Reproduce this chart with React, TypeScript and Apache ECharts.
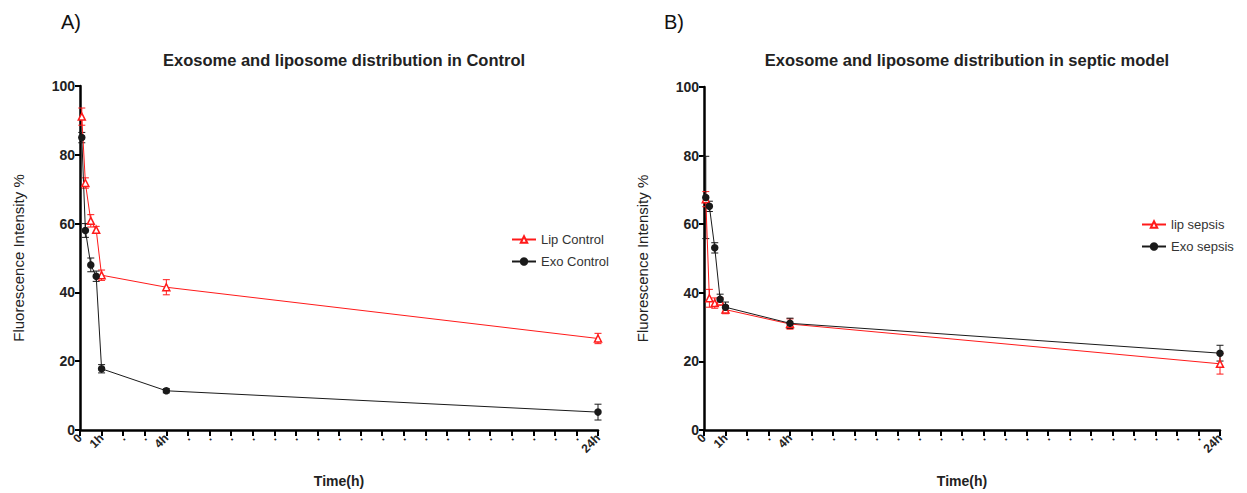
import React, { useEffect, useRef } from "react";
import * as echarts from "echarts";

const times = [0.083, 0.25, 0.5, 0.75, 1, 4, 24];
const lipControl = [91.1, 71.8, 60.8, 58.2, 45.0, 41.5, 26.6];
const lipControlErr = [2.5, 1.5, 1.8, 1.0, 1.5, 2.2, 1.5];
const exoControl = [85.0, 58.0, 48.0, 44.7, 17.8, 11.4, 5.2];
const exoControlErr = [1.5, 2.0, 2.0, 1.5, 1.2, 0.6, 2.3];
const lipSepsis = [67.3, 38.4, 37.0, 37.5, 35.1, 30.9, 19.3];
const lipSepsisErr = [2.2, 2.6, 1.5, 1.0, 1.2, 1.5, 3.0];
const exoSepsis = [67.8, 65.2, 53.1, 38.1, 35.8, 31.1, 22.4];
const exoSepsisErr = [12, 1.5, 1.5, 1.5, 1.5, 1.5, 2.3];
const tickLabels: Record<number, string> = { 0: "0", 1: "1h", 4: "4h", 24: "24h" };

const RED = "#ff1a1a";
const BLACK = "#1a1a1a";
const FONT = "Liberation Sans, Arial, sans-serif";

function pts(ys: number[]) {
  return times.map((t, i) => [t, ys[i]]);
}
function errPts(ys: number[], es: number[]) {
  return times.map((t, i) => [t, ys[i], es[i]]);
}

function errorSeries(name: string, ys: number[], es: number[], color: string, idx: number) {
  return {
    type: "custom",
    name,
    xAxisIndex: idx,
    yAxisIndex: idx,
    data: errPts(ys, es),
    encode: { x: 0, y: 1 },
    z: 1,
    renderItem: (params: any, api: any) => {
      const x = api.value(0);
      const y = api.value(1);
      const e = api.value(2);
      const top = api.coord([x, y + e]);
      const bot = api.coord([x, y - e]);
      const hw = 3.5;
      const st = { stroke: color, lineWidth: 1 };
      return {
        type: "group",
        children: [
          { type: "line", shape: { x1: top[0], y1: top[1], x2: bot[0], y2: bot[1] }, style: st },
          { type: "line", shape: { x1: top[0] - hw, y1: top[1], x2: top[0] + hw, y2: top[1] }, style: st },
          { type: "line", shape: { x1: bot[0] - hw, y1: bot[1], x2: bot[0] + hw, y2: bot[1] }, style: st },
        ],
      };
    },
  };
}

function xAxis(idx: number) {
  return {
    type: "value",
    gridIndex: idx,
    min: 0,
    max: 24,
    interval: 1,
    name: "Time(h)",
    nameLocation: "middle",
    nameGap: 44,
    nameTextStyle: { fontFamily: FONT, fontSize: 14, fontWeight: "bold", color: "#222" },
    axisLine: { show: true, lineStyle: { color: "#000", width: 2.5 } },
    axisTick: { show: true, length: 6, lineStyle: { color: "#000", width: 2 } },
    splitLine: { show: false },
    axisLabel: {
      rotate: 45,
      margin: 6,
      fontFamily: FONT,
      fontSize: 12,
      fontWeight: "bold",
      color: "#222",
      formatter: (v: number) => tickLabels[v] ?? ".",
    },
  };
}

function yAxis(idx: number) {
  return {
    type: "value",
    gridIndex: idx,
    min: 0,
    max: 100,
    interval: 20,
    name: "Fluorescence Intensity %",
    nameLocation: "middle",
    nameGap: 54,
    nameTextStyle: { fontFamily: FONT, fontSize: 15, color: "#222" },
    axisLine: { show: true, lineStyle: { color: "#000", width: 2.5 } },
    axisTick: { show: true, length: 5, lineStyle: { color: "#000", width: 2 } },
    splitLine: { show: false },
    axisLabel: { fontFamily: FONT, fontSize: 14, fontWeight: "bold", color: "#222", margin: 5 },
  };
}

function lineSeries(name: string, ys: number[], color: string, symbol: string, idx: number) {
  return {
    type: "line",
    name,
    xAxisIndex: idx,
    yAxisIndex: idx,
    data: pts(ys),
    symbol,
    symbolSize: symbol === "circle" ? 6 : 7,
    showSymbol: true,
    z: 3,
    lineStyle: { color, width: 1 },
    itemStyle: { color: symbol === "circle" ? color : "#fff", borderColor: color, borderWidth: 1.5 },
  };
}

export default function App() {
  const ref = useRef<HTMLDivElement>(null);
  useEffect(() => {
    if (!ref.current) return;
    const chart = echarts.init(ref.current, undefined, { renderer: "svg" });
    chart.setOption({
      animation: false,
      backgroundColor: "#fff",
      title: [
        {
          text: "Exosome and liposome distribution in Control",
          left: 339,
          top: 46,
          textAlign: "center",
          textStyle: { fontFamily: FONT, fontSize: 16.5, fontWeight: "bold", color: "#222" },
        },
        {
          text: "Exosome and liposome distribution in septic model",
          left: 962,
          top: 46,
          textAlign: "center",
          textStyle: { fontFamily: FONT, fontSize: 16.5, fontWeight: "bold", color: "#222" },
        },
      ],
      graphic: [
        { type: "text", left: 61, top: 12, style: { text: "A)", font: "20px " + FONT, fill: "#111" } },
        { type: "text", left: 664, top: 12, style: { text: "B)", font: "20px " + FONT, fill: "#111" } },
      ],
      legend: [
        {
          data: ["Lip Control", "Exo Control"],
          orient: "vertical",
          left: 506,
          top: 228,
          itemGap: 9,
          itemWidth: 24,
          itemHeight: 8,
          textStyle: { fontFamily: FONT, fontSize: 13, color: "#333" },
        },
        {
          data: ["lip sepsis", "Exo sepsis"],
          orient: "vertical",
          left: 1136,
          top: 213,
          itemGap: 9,
          itemWidth: 24,
          itemHeight: 8,
          textStyle: { fontFamily: FONT, fontSize: 13, color: "#333" },
        },
      ],
      grid: [
        { left: 80, top: 86, width: 518, height: 346 },
        { left: 704, top: 87, width: 516, height: 354 },
      ],
      xAxis: [xAxis(0), xAxis(1)],
      yAxis: [yAxis(0), yAxis(1)],
      series: [
        errorSeries("err1", lipControl, lipControlErr, RED, 0),
        errorSeries("err2", exoControl, exoControlErr, BLACK, 0),
        lineSeries("Lip Control", lipControl, RED, "triangle", 0),
        lineSeries("Exo Control", exoControl, BLACK, "circle", 0),
        errorSeries("err3", lipSepsis, lipSepsisErr, RED, 1),
        errorSeries("err4", exoSepsis, exoSepsisErr, BLACK, 1),
        lineSeries("lip sepsis", lipSepsis, RED, "triangle", 1),
        lineSeries("Exo sepsis", exoSepsis, BLACK, "circle", 1),
      ],
    });
    return () => chart.dispose();
  }, []);
  return (
    <div
      ref={ref}
      style={{ position: "absolute", left: 0, top: 0, width: 1247, height: 493, background: "#fff" }}
    />
  );
}
